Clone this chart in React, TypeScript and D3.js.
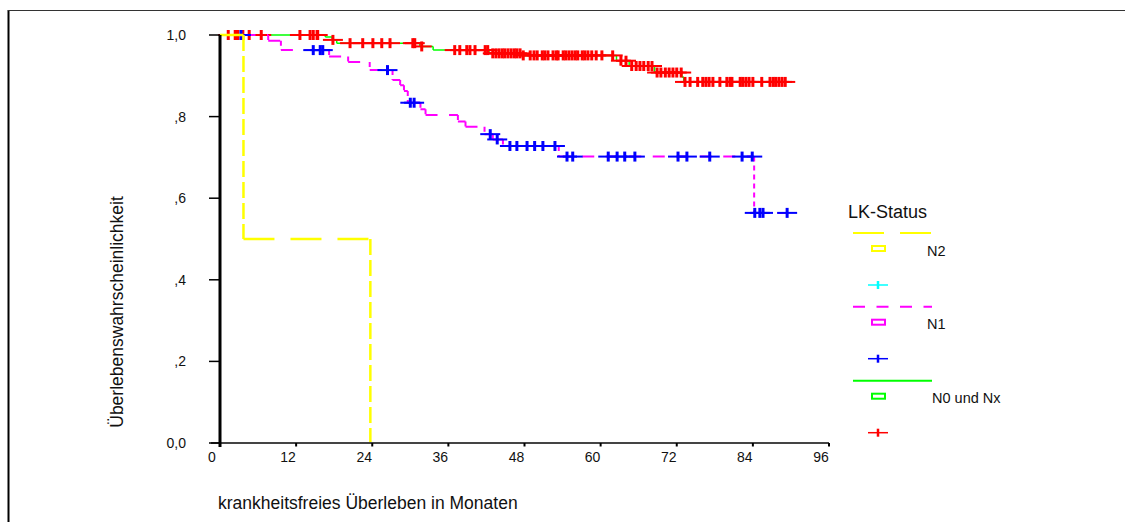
import React from 'react';
import * as d3 from 'd3';

// Kaplan-Meier data (months, survival after the drop)
const n2Times = [3.7, 23.7];
const n2Surv = [0.5, 0.0];
const n2Censored: number[] = [];

const n1Times = [7.6, 9.6, 17.2, 20.2, 23.6, 27.2, 28.4, 29.0, 29.6, 31.6, 32.4, 37.5, 38.7, 41.7, 43.0, 44.6, 53.4, 84.2];
const n1Surv = [0.986, 0.963, 0.947, 0.934, 0.914, 0.89, 0.877, 0.863, 0.834, 0.818, 0.804, 0.788, 0.775, 0.757, 0.744, 0.728, 0.702, 0.564];
const n1Censored = [3.3, 14.7, 15.8, 16.2, 26.4, 30.0, 30.6, 42.6, 43.7, 45.7, 46.8, 48.4, 49.6, 50.9, 52.8,
  54.7, 55.6, 61.2, 62.6, 63.8, 65.4, 72.2, 73.6, 77.2, 82.3, 83.9, 84.3, 85.1, 85.6, 89.4];

const n0Times = [16.6, 17.7, 18.4, 31.5, 33.6, 42.4, 47.5, 62.5, 64.5, 68.5, 72.8, 73.1];
const n0Surv = [0.995, 0.988, 0.98, 0.972, 0.963, 0.955, 0.95, 0.937, 0.924, 0.908, 0.897, 0.885];
const n0Censored = [1.3, 2.4, 2.7, 2.8, 3.6, 4.6, 6.5, 12.6, 14.2, 14.7, 15.3, 15.4, 17.8,
  20.5, 22.5, 24.1, 25.5, 26.8, 30.4, 30.7, 31.8, 37.0, 37.8, 38.9, 39.4, 40.2, 41.8, 42.2,
  43.0, 43.5, 44.0, 44.5, 44.9, 45.4, 45.9, 46.4, 46.8, 47.3,
  47.8, 48.9, 49.5, 50.0, 50.8, 51.2, 51.7, 52.5, 53.0, 53.3, 54.1, 54.5, 55.0, 55.5, 56.0, 56.4,
  57.1, 57.5, 58.0, 58.6, 59.3, 60.2, 61.9, 63.2, 64.0, 64.9, 65.6, 66.2, 66.8, 67.5, 68.1,
  68.9, 69.5, 70.2, 70.8, 71.4, 72.0, 72.7, 73.3, 74.1, 75.3, 76.1, 76.6, 77.1, 77.7, 78.8,
  79.9, 80.4, 80.7, 82.0, 82.4, 82.9, 83.4, 84.0, 85.4, 86.7, 87.2, 87.6, 88.1, 88.6, 89.1];

const xTicks = [0, 12, 24, 36, 48, 60, 72, 84, 96];
const yTicks = [0, 0.2, 0.4, 0.6, 0.8, 1.0];
const yTickLabels = ['0,0', ',2', ',4', ',6', ',8', '1,0'];

const legendTitle = 'LK-Status';
const groupNames = ['N2', 'N1', 'N0 und Nx'];

const FONT = '"Liberation Sans", Arial, sans-serif';

const survAt = (times: number[], surv: number[], t: number) => {
  let s = 1;
  times.forEach((tt, i) => { if (tt <= t) s = surv[i]; });
  return s;
};

const App = () => {
  const width = 1125;
  const height = 522;

  const x = d3.scaleLinear().domain([0, 96]).range([220, 829]);
  const y = d3.scaleLinear().domain([0, 1]).range([443, 35]);

  const groups = [
    { name: groupNames[0], times: n2Times, surv: n2Surv, censored: n2Censored, line: '#ffff00', mark: '#00ffff', hDash: '31 16', vDash: '16 5', lw: 2.5 },
    { name: groupNames[1], times: n1Times, surv: n1Surv, censored: n1Censored, line: '#ff00ff', mark: '#0000ff', hDash: '12 11.5', vDash: '5 4', lw: 2 },
    { name: groupNames[2], times: n0Times, surv: n0Surv, censored: n0Censored, line: '#00ff00', mark: '#ff0000', hDash: null, vDash: null, lw: 1.5 },
  ];

  const stepPaths = (g: typeof groups[0]) => {
    const h = d3.path();
    const v = d3.path();
    let t0 = 0;
    let s0 = 1;
    g.times.forEach((t, i) => {
      h.moveTo(x(t0), y(s0));
      h.lineTo(x(t), y(s0));
      v.moveTo(x(t), y(s0));
      v.lineTo(x(t), y(g.surv[i]));
      t0 = t;
      s0 = g.surv[i];
    });
    const end = g.censored.length ? Math.max(...g.censored) : t0;
    if (end > t0) {
      h.moveTo(x(t0), y(s0));
      h.lineTo(x(end), y(s0));
    }
    return { h: h.toString(), v: v.toString() };
  };

  // draw order: N0, N1, N2
  const drawOrder = [groups[2], groups[1], groups[0]];

  const legendY = [233, 306.7, 380.7];

  return (
    <svg width={width} height={height} style={{ position: 'absolute', left: 0, top: 0, display: 'block' }}
      fontFamily={FONT}>
      <rect width={width} height={height} fill="white" />
      {/* frame */}
      <line x1={8.5} x2={8.5} y1={10} y2={height} stroke="black" strokeWidth={2} />
      <line x1={8} x2={width} y1={10.5} y2={10.5} stroke="#333" strokeWidth={1} />

      {/* curves */}
      {drawOrder.map((g) => {
        const p = stepPaths(g);
        return (
          <g key={`curve-${g.name}`}>
            <path d={p.h} fill="none" stroke={g.line} strokeWidth={g.lw} strokeDasharray={g.hDash ?? undefined} />
            <path d={p.v} fill="none" stroke={g.line} strokeWidth={g.lw} strokeDasharray={g.vDash ?? undefined} />
            {g.censored.map((t, i) => {
              const cx = x(t);
              const cy = y(survAt(g.times, g.surv, t));
              return (
                <g key={`c-${i}`} stroke={g.mark}>
                  <line x1={cx - 10} x2={cx + 10} y1={cy} y2={cy} strokeWidth={2} />
                  <line x1={cx} x2={cx} y1={cy - 5} y2={cy + 5} strokeWidth={3} />
                </g>
              );
            })}
          </g>
        );
      })}

      {/* x axis */}
      <line x1={211} x2={829} y1={y(0)} y2={y(0)} stroke="#444" strokeWidth={2} />
      {xTicks.map((t) => (
        <g key={`xt-${t}`}>
          <line x1={x(t)} x2={x(t)} y1={y(0)} y2={y(0) + 3.5} stroke="black" strokeWidth={2} />
          <text x={x(t) - 8} y={462} textAnchor="middle" fontSize={14} fill="#111">{t}</text>
        </g>
      ))}

      {/* y axis */}
      <line x1={220} x2={220} y1={y(1)} y2={y(0) + 4} stroke="black" strokeWidth={3} />
      {yTicks.map((v, i) => (
        <g key={`yt-${v}`}>
          <line x1={209} x2={220} y1={y(v)} y2={y(v)} stroke="black" strokeWidth={1.5} />
          <text x={186} y={y(v) + 5} textAnchor="end" fontSize={14} fill="#111">{yTickLabels[i]}</text>
        </g>
      ))}

      {/* axis titles */}
      <text x={218} y={509} fontSize={17.5} fill="#111">krankheitsfreies Überleben in Monaten</text>
      <text transform={`translate(123,312) rotate(-90)`} textAnchor="middle" fontSize={17.5} fill="#111">
        Überlebenswahrscheinlichkeit
      </text>

      {/* legend */}
      <text x={848} y={218} fontSize={18} fill="#111">{legendTitle}</text>
      {groups.map((g, i) => {
        const ly = legendY[i];
        return (
          <g key={`lg-${g.name}`}>
            <line x1={853} x2={932} y1={ly} y2={ly} stroke={g.line} strokeWidth={2} strokeDasharray={g.hDash ?? undefined} />
            <rect x={872} y={ly + 13} width={13} height={5} fill="none" stroke={g.line} strokeWidth={2} />
            <text x={i === 2 ? 932 : 927} y={ly + 22.5} fontSize={14.5} fill="#111">{g.name}</text>
            <g stroke={g.mark}>
              <line x1={868} x2={888} y1={ly + 52} y2={ly + 52} strokeWidth={1.5} />
              <line x1={878} x2={878} y1={ly + 48} y2={ly + 56} strokeWidth={2.5} />
            </g>
          </g>
        );
      })}
    </svg>
  );
};

export default App;
